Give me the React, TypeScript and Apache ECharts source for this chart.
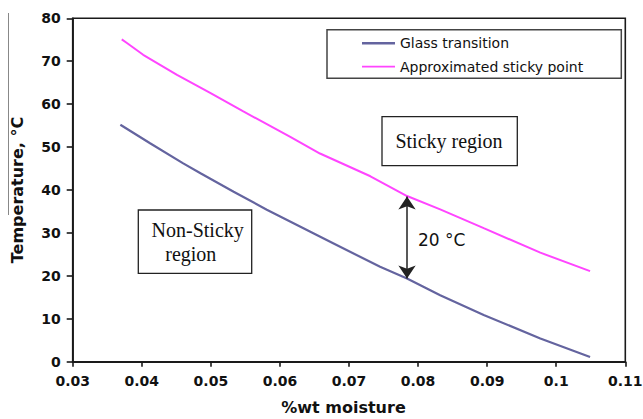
import React, { useEffect, useRef } from 'react';
import * as echarts from 'echarts';

// %wt moisture (x) and temperature in °C (y)
const glassX = [0.0369, 0.0412, 0.046, 0.0485, 0.0533, 0.0581, 0.0629, 0.0677, 0.0745, 0.0784, 0.0832, 0.0895, 0.0977, 0.1049];
const glassT = [55.2, 50.9, 46.2, 43.9, 39.6, 35.4, 31.5, 27.6, 22.1, 19.4, 15.5, 10.9, 5.4, 1.1];

const stickyX = [0.0371, 0.0378, 0.0402, 0.0451, 0.0499, 0.0547, 0.0615, 0.0658, 0.0731, 0.0784, 0.0832, 0.0895, 0.0977, 0.1049];
const stickyT = [75.1, 74.3, 71.5, 66.8, 62.6, 58.3, 52.4, 48.5, 43.2, 38.6, 35.5, 31.1, 25.4, 21.1];

const seriesNames = ['Glass transition', 'Approximated sticky point'];
const seriesColors = ['#64649f', '#ff45ff'];

// annotation: 20 °C difference arrow (data coordinates of the arrow tips)
const arrowX = 0.0784;
const arrowFrom = 19.4;
const arrowTo = 38.5;
const arrowLabel = '20 °C';

const xMin = 0.03, xMax = 0.11, xStep = 0.01;
const yMin = 0, yMax = 80, yStep = 10;

const SANS = '"DejaVu Sans", Verdana, sans-serif';
const SERIF = '"Liberation Serif", "Times New Roman", serif';

export default function App() {
  const ref = useRef<HTMLDivElement>(null);
  useEffect(() => {
    if (!ref.current) return;
    const chart = echarts.init(ref.current, null, { renderer: 'svg' });
    const glassData = glassX.map((x, i) => [x, glassT[i]]);
    const stickyData = stickyX.map((x, i) => [x, stickyT[i]]);
    chart.setOption({
      animation: false,
      backgroundColor: '#fff',
      grid: {
        left: 72.7, right: 17.7, top: 18.3, bottom: 57.3,
        outerBoundsMode: 'none', containLabel: false,
        show: true, borderColor: '#1a1a1a', borderWidth: 1.6, backgroundColor: 'transparent',
      },
      legend: {
        orient: 'vertical',
        left: 360.7, top: 36.3,
        padding: 0,
        itemWidth: 33, itemHeight: 14, itemGap: 9.4,
        itemStyle: { opacity: 0 },
        textStyle: { fontFamily: SANS, fontSize: 14, color: '#111' },
        data: [
          { name: seriesNames[0], itemStyle: { opacity: 0 }, lineStyle: { width: 2.6, color: seriesColors[0] } },
          { name: seriesNames[1], itemStyle: { opacity: 0 }, lineStyle: { width: 1.8, color: seriesColors[1] } },
        ],
      },
      xAxis: {
        type: 'value', min: xMin, max: xMax, interval: xStep,
        name: '%wt moisture', nameLocation: 'middle', nameGap: 38,
        nameTextStyle: { fontFamily: SANS, fontSize: 16, fontWeight: 'bold', color: '#111', padding: [0, 11, 0, 0] },
        axisLine: { show: true, onZero: false, lineStyle: { color: '#1a1a1a', width: 1.8 } },
        axisTick: { show: true, inside: false, length: 5, lineStyle: { color: '#1a1a1a', width: 1.6 } },
        axisLabel: {
          margin: 12, fontFamily: SANS, fontSize: 14, fontWeight: 'bold', color: '#111',
          formatter: (v: number) => String(+v.toFixed(2)),
        },
        splitLine: { show: false },
      },
      yAxis: {
        type: 'value', min: yMin, max: yMax, interval: yStep,
        name: 'Temperature, °C', nameLocation: 'middle', nameGap: 47, nameRotate: 90,
        nameTextStyle: { fontFamily: SANS, fontSize: 16, fontWeight: 'bold', color: '#111' },
        axisLine: { show: true, lineStyle: { color: '#1a1a1a', width: 1.8 } },
        axisTick: { show: true, inside: false, length: 6, lineStyle: { color: '#1a1a1a', width: 1.6 } },
        axisLabel: { margin: 12, fontFamily: SANS, fontSize: 14, fontWeight: 'bold', color: '#111' },
        splitLine: { show: false },
      },
      series: [
        {
          name: seriesNames[0], type: 'line', data: glassData, symbol: 'none',
          lineStyle: { color: seriesColors[0], width: 2.2 }, itemStyle: { color: seriesColors[0] },
          markLine: {
            silent: true,
            symbol: ['arrow', 'arrow'], symbolSize: [13, 13],
            label: { show: false },
            lineStyle: { color: '#222', width: 1.5, type: 'solid' },
            data: [[{ coord: [arrowX, arrowFrom] }, { coord: [arrowX, arrowTo] }]],
          },
        },
        {
          name: seriesNames[1], type: 'line', data: stickyData, symbol: 'none',
          lineStyle: { color: seriesColors[1], width: 2 }, itemStyle: { color: seriesColors[1] },
        },
      ],
      graphic: [
        { type: 'line', shape: { x1: 8.5, y1: 13, x2: 8.5, y2: 215 }, style: { stroke: '#888', lineWidth: 1 } },
        { type: 'rect', shape: { x: 327, y: 29.8, width: 294.3, height: 48.5 }, style: { fill: 'none', stroke: '#444', lineWidth: 1.5 }, z: 10 },
        { type: 'rect', shape: { x: 382, y: 116.7, width: 135.3, height: 49 }, style: { fill: '#fff', stroke: '#222', lineWidth: 1.3 }, z: 10 },
        { type: 'text', x: 449, y: 141, style: { text: 'Sticky region', font: `20px ${SERIF}`, fill: '#111', textAlign: 'center', textVerticalAlign: 'middle' }, z: 11 },
        { type: 'rect', shape: { x: 138.3, y: 210, width: 113.4, height: 63.3 }, style: { fill: '#fff', stroke: '#222', lineWidth: 1.3 }, z: 10 },
        { type: 'text', x: 197.7, y: 229.5, style: { text: 'Non-Sticky', font: `20px ${SERIF}`, fill: '#111', textAlign: 'center', textVerticalAlign: 'middle' }, z: 11 },
        { type: 'text', x: 190.8, y: 254, style: { text: 'region', font: `20px ${SERIF}`, fill: '#111', textAlign: 'center', textVerticalAlign: 'middle' }, z: 11 },
        { type: 'text', x: 418, y: 240, style: { text: arrowLabel, font: `17px ${SANS}`, fill: '#111', textAlign: 'left', textVerticalAlign: 'middle' }, z: 11 },
      ],
    });
    return () => chart.dispose();
  }, []);
  return <div ref={ref} style={{ width: 643, height: 419, position: 'absolute', left: 0, top: 0 }} />;
}
